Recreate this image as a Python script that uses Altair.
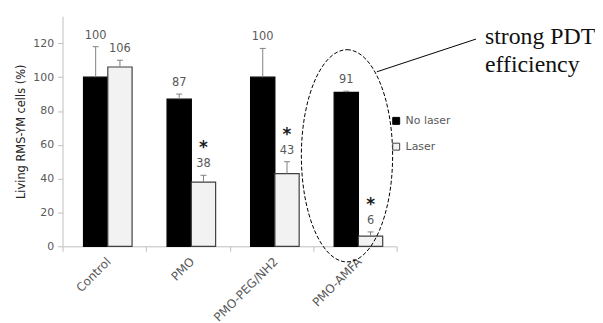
import altair as alt
import pandas as pd

# ---- data ----
categories = ["Control", "PMO", "PMO-PEG/NH2", "PMO-AMFA"]
conditions = ["No laser", "Laser"]
no_laser = [100, 87, 100, 91]
no_laser_err = [18, 3, 17, 0.7]
laser = [106, 38, 43, 6]
laser_err = [4, 4, 7, 2.5]
laser_sig = [False, True, True, True]
y_ticks = [0, 20, 40, 60, 80, 100, 120]

# annotation (ellipse around PMO-AMFA group, y centre in data units)
ann_category = ["PMO-AMFA"]
ann_y = [53.5]
ann_text = ["strong PDT", "efficiency"]

rows = []
for i, c in enumerate(categories):
    rows.append(dict(cat=c, cond="No laser", value=no_laser[i], err=no_laser_err[i], sig=False))
    rows.append(dict(cat=c, cond="Laser", value=laser[i], err=laser_err[i], sig=laser_sig[i]))
df = pd.DataFrame(rows)
df["top"] = df["value"] + df["err"]
ann = pd.DataFrame({"cat": ann_category, "y": ann_y})

FONT = "DejaVu Sans"
GRAY = "#595959"
AXC = "#bfbfbf"

x_axis = alt.Axis(title=None, labelAngle=-45, labelAlign="right", labelBaseline="middle",
                  labelFont=FONT, labelFontSize=12, labelColor=GRAY,
                  tickBand="extent", tickSize=5, tickColor=AXC, domainColor=AXC,
                  labelPadding=8, labelOffset=4, labelOverlap=False, labelBound=False)
y_axis = alt.Axis(values=y_ticks, title="Living RMS-YM cells (%)",
                  titleFont=FONT, titleFontSize=11.5, titleFontWeight="normal",
                  titleColor="#262626", titlePadding=6,
                  labelFont=FONT, labelFontSize=11, labelColor=GRAY, labelPadding=4,
                  labelOverlap=False, labelBound=False,
                  tickSize=5, tickColor=AXC, domainColor=AXC, grid=False)

x_scale = alt.Scale(paddingInner=0, paddingOuter=0)
y_scale = alt.Scale(domain=[0, 136], nice=False)
x_enc = alt.X("cat:N", sort=categories, scale=x_scale, axis=x_axis)
xo_enc = alt.XOffset("cond:N", sort=conditions,
                     scale=alt.Scale(paddingInner=0, paddingOuter=0.72, align=0.6))


def Y(field):
    return alt.Y(field, scale=y_scale, axis=y_axis, title="Living RMS-YM cells (%)")


base = alt.Chart(df)

bars = base.mark_bar(strokeWidth=1.2).encode(
    x=x_enc,
    xOffset=xo_enc,
    y=Y("value:Q"),
    fill=alt.Fill("cond:N", sort=conditions,
                  scale=alt.Scale(domain=conditions, range=["#000000", "#f2f2f2"]),
                  legend=alt.Legend(title=None, orient="none", legendX=331, legendY=100,
                                    padding=0, symbolType="square", symbolSize=49,
                                    symbolStrokeColor="#404040", symbolStrokeWidth=1,
                                    labelFont=FONT, labelFontSize=11, labelColor=GRAY,
                                    labelOffset=4, rowPadding=14)),
    stroke=alt.Stroke("cond:N", sort=conditions,
                      scale=alt.Scale(domain=conditions, range=["#000000", "#404040"]),
                      legend=None),
)

err_rule = base.mark_rule(color="#808080", strokeWidth=1).encode(
    x=x_enc, xOffset=xo_enc, y=Y("value:Q"), y2="top:Q"
)
err_cap = base.mark_tick(color="#808080", size=6, thickness=1, opacity=1).encode(
    x=x_enc, xOffset=xo_enc, y=Y("top:Q")
)
labels = base.mark_text(font=FONT, fontSize=11.5, color=GRAY, baseline="middle", dy=-11).encode(
    x=x_enc, xOffset=xo_enc, y=Y("top:Q"),
    text=alt.Text("value:Q", format="d")
)
stars = base.transform_filter("datum.sig").mark_text(
    text="*", font=FONT, fontSize=17, fontWeight="bold", color="#1a1a1a",
    baseline="alphabetic", dy=-22
).encode(x=x_enc, xOffset=xo_enc, y=Y("top:Q"))

ellipse_path = ("M0,-1 C0.2375,-1 0.43,-0.5523 0.43,0 C0.43,0.5523 0.2375,1 0,1 "
                "C-0.2375,1 -0.43,0.5523 -0.43,0 C-0.43,-0.5523 -0.2375,-1 0,-1 Z")
ellipse = alt.Chart(ann).mark_point(
    shape=ellipse_path, size=45796, filled=False, stroke="black", strokeWidth=1,
    strokeDash=[4, 2], opacity=1, xOffset=-8
).encode(x=x_enc, y=Y("y:Q"))

connector = alt.Chart(ann).mark_rule(color="black", strokeWidth=1).encode(
    x=alt.value(317), y=alt.value(56), x2=alt.value(417), y2=alt.value(23)
)
note = alt.Chart(ann).mark_text(
    align="left", baseline="alphabetic", font="Liberation Serif", fontSize=24,
    lineHeight=28, color="#111111"
).encode(x=alt.value(426), y=alt.value(28), text=alt.value(ann_text))

chart = alt.layer(bars, err_rule, err_cap, labels, stars, ellipse, connector, note).properties(
    width=337, height=232,
    autosize=alt.AutoSizeParams(type="none"),
    padding={"left": 55, "top": 7, "right": 200, "bottom": 75},
).configure_view(stroke=None)

chart.save("out.html", embed_options={"renderer": "svg", "actions": False})
